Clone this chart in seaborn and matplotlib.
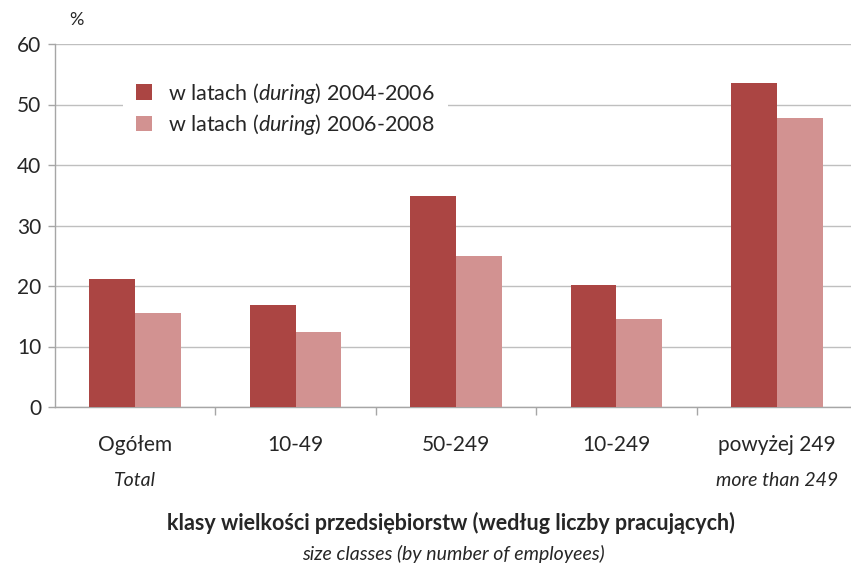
import numpy as np
import pandas as pd
import matplotlib
matplotlib.use('Agg')
import matplotlib.pyplot as plt
import seaborn as sns

# ── data ───────────────────────────────────────────────────────────
categories = ['Ogółem', '10-49', '50-249', '10-249', 'powyżej 249']
categories_en = ['Total', '', '', '', 'more than 249']
series_names = [r'w latach $\mathit{(during)}$ 2004-2006',
                r'w latach $\mathit{(during)}$ 2006-2008']
values_2004_2006 = [21.1, 16.9, 34.8, 20.1, 53.6]
values_2006_2008 = [15.5, 12.4, 25.0, 14.5, 47.7]
y_ticks = [0, 10, 20, 30, 40, 50, 60]

# ── setup ──────────────────────────────────────────────────────────
sns.set_theme(style='white')
plt.rcParams['font.family'] = ['Lato', 'DejaVu Sans']
plt.rcParams['mathtext.fontset'] = 'custom'
plt.rcParams['mathtext.rm'] = 'Lato'
plt.rcParams['mathtext.it'] = 'Lato:italic'

df = pd.DataFrame({
    'klasa': categories * 2,
    'okres': [series_names[0]] * 5 + [series_names[1]] * 5,
    'wartosc': values_2004_2006 + values_2006_2008,
})

dark = '#AB4543'
light = '#D29291'
grid_c = '#BFBFBF'
text_c = '#262626'

W, H = 851, 565
fig = plt.figure(figsize=(W / 100, H / 100), dpi=100)
ax = fig.add_axes([55 / W, (H - 407) / H, 802 / W, 363 / H])

sns.barplot(data=df, x='klasa', y='wartosc', hue='okres',
            palette=[dark, light], width=0.57, gap=0,
            linewidth=0, saturation=1, ax=ax, zorder=3)

ax.set_ylim(0, 60)
ax.set_xlim(-0.5, 4.5)
ax.set_yticks(y_ticks)
ax.set_yticklabels([str(t) for t in y_ticks], fontsize=15, color=text_c)
ax.yaxis.grid(True, color=grid_c, linewidth=1.0)
ax.set_axisbelow(True)

for s in ['top', 'right']:
    ax.spines[s].set_visible(False)
for s in ['left', 'bottom']:
    ax.spines[s].set_color('#A6A6A6')
    ax.spines[s].set_linewidth(1.0)

ax.tick_params(axis='y', length=5, color='#A6A6A6', width=1, pad=5,
               left=True)
ax.set_xticks(range(len(categories)))
ax.set_xticklabels([])
ax.tick_params(axis='x', which='major', length=0)
ax.set_xticks(np.arange(0.5, 4.5, 1.0), minor=True)
ax.tick_params(axis='x', which='minor', length=6, color='#A6A6A6',
               width=1, bottom=True)

# category labels (two lines)
for i, (pl, en) in enumerate(zip(categories, categories_en)):
    ax.text(i, -6.3, pl, ha='center', va='center', fontsize=15,
            color=text_c)
    if en:
        ax.text(i, -12.2, en, ha='center', va='center', fontsize=14,
                style='italic', color=text_c)

ax.set_xlabel('')
ax.set_ylabel('')

fig.text(451 / W, 1 - 523 / H,
         'klasy wielkości przedsiębiorstw (według liczby pracujących)',
         ha='center', va='center', fontsize=15.5, fontweight='bold',
         color=text_c)
fig.text(453 / W, 1 - 554 / H, 'size classes (by number of employees)',
         ha='center', va='center', fontsize=14, style='italic',
         color=text_c)
fig.text(76 / W, 1 - 20 / H, '%', ha='center', va='center',
         fontsize=13, color=text_c)

leg = ax.legend(loc='upper left', bbox_to_anchor=(0.085, 0.935),
                frameon=True, fontsize=15.5, handlelength=0.75,
                handleheight=0.75, handletextpad=0.75, labelspacing=0.3,
                borderpad=0.6, borderaxespad=0, fancybox=False,
                title=None)
leg.get_frame().set_facecolor('white')
leg.get_frame().set_edgecolor('none')
leg.get_frame().set_alpha(1)
for t in leg.get_texts():
    t.set_color(text_c)
leg.set_zorder(5)

fig.savefig('out.png', dpi=100, facecolor='white')
